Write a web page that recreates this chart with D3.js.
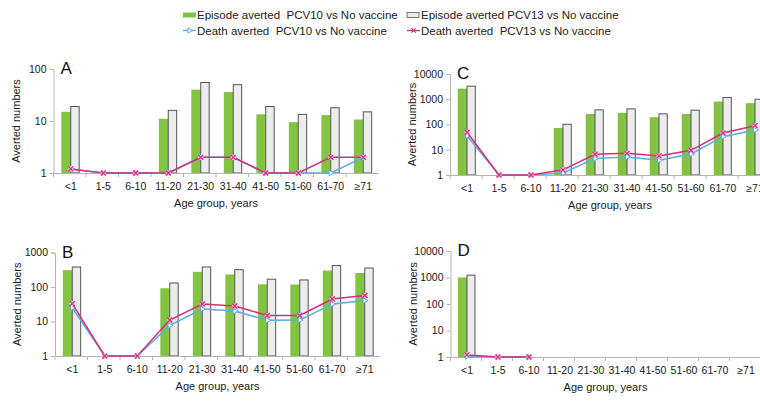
<!DOCTYPE html>
<html>
<head>
<meta charset="utf-8">
<script src="https://cdn.jsdelivr.net/npm/d3@7"></script>
<style>
  body { margin: 0; background: #fff; }
  svg { font-family: "Liberation Sans", Arial, sans-serif; display: block; }
  .axis path, .axis line { stroke: #b5b5b5; }
  .axis text { fill: #1a1a1a; font-size: 10.5px; }
  .leg text { white-space: pre; }
</style>
</head>
<body>
<svg width="760" height="401"></svg>
<script>
var ages = ["<1","1-5","6-10","11-20","21-30","31-40","41-50","51-60","61-70","\u226571"];

// panel A
var epA10 = [15, null, null, 11, 40, 36, 13.4, 9.5, 13, 10.7];
var epA13 = [19, null, null, 16, 55, 50, 19, 13.4, 18, 15];
var deA10 = [1.2, 1, 1, 1, 2, 2, 1, 1, 1, 2];
var deA13 = [1.2, 1, 1, 1, 2, 2, 1, 1, 2, 2];
// panel B
var epB10 = [307, null, null, 92, 275, 230, 120, 118, 300, 255];
var epB13 = [380, null, null, 131, 380, 318, 168, 160, 418, 355];
var deB10 = [25, 1, 1, 7.7, 23, 20, 10.8, 11, 32, 40];
var deB13 = [33, 1, 1, 11, 32, 28, 15, 15, 45, 57];
// panel C
var epC10 = [2650, null, null, 73, 263, 290, 195, 263, 810, 700];
var epC13 = [3300, null, null, 102, 380, 415, 263, 370, 1170, 1000];
var deC10 = [36, 1, 1, 1.2, 4.5, 5.2, 3.8, 6.8, 33, 61];
var deC13 = [49, 1, 1, 1.6, 6.6, 7.2, 5.7, 9.5, 46, 90];
// panel D
var epD10 = [1000, null, null, null, null, null, null, null, null, null];
var epD13 = [1230, null, null, null, null, null, null, null, null, null];
var deD10 = [1.05, 1, 1, null, null, null, null, null, null, null];
var deD13 = [1.2, 1, 1, null, null, null, null, null, null, null];

var legendLabels = ["Episode averted  PCV10 vs No vaccine", "Episode averted PCV13 vs No vaccine",
                    "Death averted  PCV10 vs No vaccine", "Death averted  PCV13 vs No vaccine"];

var green = "#82c341", greyFill = "#ececec", greyStroke = "#555",
    blue = "#5aaee0", pink = "#d42f80";

var svg = d3.select("svg");

var panels = [
  {name: "A", ep10: epA10, ep13: epA13, d10: deA10, d13: deA13, max: 100,   x0: 53.5, x1: 378.5, yTop: 69,  yBot: 173},
  {name: "B", ep10: epB10, ep13: epB13, d10: deB10, d13: deB13, max: 1000,  x0: 55,   x1: 380,   yTop: 252.5, yBot: 356},
  {name: "C", ep10: epC10, ep13: epC13, d10: deC10, d13: deC13, max: 10000, x0: 450,  x1: 770,   yTop: 74,  yBot: 175},
  {name: "D", ep10: epD10, ep13: epD13, d10: deD10, d13: deD13, max: 10000, x0: 450.5, x1: 760.5, yTop: 251, yBot: 357}
];

function timesPath(r) {
  return "M" + (-r) + "," + (-r) + "L" + r + "," + r + "M" + (-r) + "," + r + "L" + r + "," + (-r);
}

panels.forEach(function(p) {
  var x = d3.scaleBand().domain(ages).range([p.x0, p.x1]);
  var y = d3.scaleLog().domain([1, p.max]).range([p.yBot, p.yTop]);
  var bw = x.step() * 0.29;
  var cx = function(i) { return x(ages[i]) + x.bandwidth() / 2 + 1; };
  var g = svg.append("g");

  var decades = d3.range(0, Math.log10(p.max) + 1).map(function(e) { return Math.pow(10, e); });

  // bars
  p.ep10.forEach(function(d, i) {
    if (d == null) return;
    g.append("rect")
      .attr("x", cx(i) - bw).attr("y", y(d))
      .attr("width", bw).attr("height", y(1) - y(d))
      .attr("fill", green);
  });
  p.ep13.forEach(function(d, i) {
    if (d == null) return;
    g.append("rect")
      .attr("x", cx(i)).attr("y", y(d))
      .attr("width", bw - 1).attr("height", y(1) - y(d))
      .attr("fill", greyFill).attr("stroke", greyStroke).attr("stroke-width", 1);
  });

  // y axis
  g.append("g").attr("class", "axis")
    .attr("transform", "translate(" + p.x0 + ",0)")
    .call(d3.axisLeft(y).tickValues(decades).tickFormat(d3.format("d")).tickSize(4).tickPadding(3));

  // x axis
  var xa = g.append("g").attr("class", "axis")
    .attr("transform", "translate(0," + p.yBot + ")")
    .call(d3.axisBottom(x).tickSize(0).tickPadding(10));
  xa.selectAll(".tick text").attr("dx", 1);
  xa.selectAll(".bound").data(ages).enter().append("line")
    .attr("x1", function(d) { return x(d); }).attr("x2", function(d) { return x(d); })
    .attr("y1", 0).attr("y2", 4).attr("stroke", "#b5b5b5");

  // lines
  var line = d3.line()
    .defined(function(d) { return d != null; })
    .x(function(d, i) { return cx(i); })
    .y(function(d) { return y(d); });

  g.append("path").datum(p.d10).attr("d", line)
    .attr("fill", "none").attr("stroke", blue).attr("stroke-width", 1.5);
  p.d10.forEach(function(d, i) {
    if (d == null) return;
    g.append("path").attr("d", d3.symbol(d3.symbolTriangle, 14)())
      .attr("transform", "translate(" + cx(i) + "," + y(d) + ") rotate(90)")
      .attr("fill", "#fff").attr("stroke", blue).attr("stroke-width", 1);
  });
  g.append("path").datum(p.d13).attr("d", line)
    .attr("fill", "none").attr("stroke", pink).attr("stroke-width", 1.5);
  p.d13.forEach(function(d, i) {
    if (d == null) return;
    g.append("rect").attr("x", cx(i) - 2.5).attr("y", y(d) - 2.5)
      .attr("width", 5).attr("height", 5).attr("fill", "#f6c6dc");
    g.append("path").attr("d", timesPath(2.5))
      .attr("transform", "translate(" + cx(i) + "," + y(d) + ")")
      .attr("stroke", pink).attr("stroke-width", 1.3);
  });

  // labels
  g.append("text").attr("x", p.x0 + 7).attr("y", p.yTop + 5)
    .style("font-size", "17px").attr("fill", "#111").text(p.name);
  g.append("text")
    .attr("transform", "translate(" + (p.x0 - 34) + "," + ((p.yTop + p.yBot) / 2) + ") rotate(-90)")
    .attr("text-anchor", "middle").style("font-size", "11px").attr("fill", "#1a1a1a")
    .text("Averted numbers");
  g.append("text")
    .attr("x", (p.x0 + p.x1) / 2).attr("y", p.yBot + 34)
    .attr("text-anchor", "middle").style("font-size", "11px").attr("fill", "#1a1a1a")
    .text("Age group, years");
});

// legend
var leg = svg.append("g").attr("class", "leg").style("font-size", "11.5px");
var legX = [183, 407], legY = [15, 30.5];
leg.append("rect").attr("x", legX[0]).attr("y", legY[0] - 2.5).attr("width", 13).attr("height", 5).attr("fill", green);
leg.append("rect").attr("x", legX[1]).attr("y", legY[0] - 2.5).attr("width", 12).attr("height", 5)
  .attr("fill", greyFill).attr("stroke", greyStroke).attr("stroke-width", 0.8);
leg.append("line").attr("x1", legX[0]).attr("x2", legX[0] + 13).attr("y1", legY[1]).attr("y2", legY[1])
  .attr("stroke", blue).attr("stroke-width", 1.3);
leg.append("path").attr("d", d3.symbol(d3.symbolTriangle, 12)())
  .attr("transform", "translate(" + (legX[0] + 6.5) + "," + legY[1] + ") rotate(90)")
  .attr("fill", "#fff").attr("stroke", blue);
leg.append("line").attr("x1", legX[1]).attr("x2", legX[1] + 13).attr("y1", legY[1]).attr("y2", legY[1])
  .attr("stroke", pink).attr("stroke-width", 1.3);
leg.append("path").attr("d", timesPath(2.2))
  .attr("transform", "translate(" + (legX[1] + 6.5) + "," + legY[1] + ")")
  .attr("stroke", pink).attr("stroke-width", 1.2);
legendLabels.forEach(function(t, i) {
  leg.append("text")
    .attr("x", legX[i % 2] + 14).attr("y", legY[Math.floor(i / 2)]).attr("dy", "0.35em")
    .attr("fill", "#222").text(t);
});
</script>
</body>
</html>
